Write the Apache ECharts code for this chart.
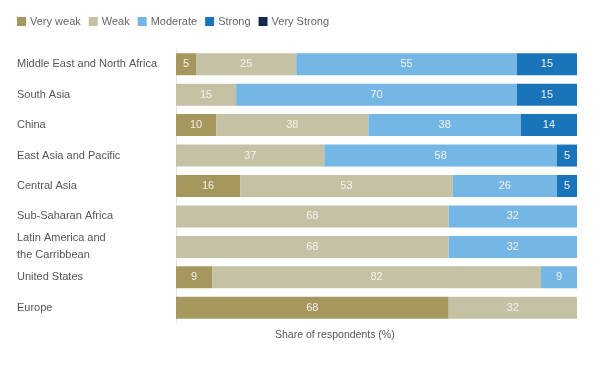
<!DOCTYPE html>
<html><head><meta charset="utf-8">
<script src="https://cdn.jsdelivr.net/npm/echarts@6/dist/echarts.min.js"></script>
<style>html,body{margin:0;padding:0;background:#fff}#c{width:600px;height:375px}</style>
</head><body><div id="c"></div>
<script>
const categories = ["Middle East and North Africa","South Asia","China","East Asia and Pacific","Central Asia","Sub-Saharan Africa","Latin America and\nthe Carribbean","United States","Europe"];
const veryWeak   = [5, 0, 10, 0, 16, 0, 0, 9, 68];
const weak       = [25, 15, 38, 37, 53, 68, 68, 82, 32];
const moderate   = [55, 70, 38, 58, 26, 32, 32, 9, 0];
const strong     = [15, 15, 14, 5, 5, 0, 0, 0, 0];
const veryStrong = [0, 0, 0, 0, 0, 0, 0, 0, 0];
const seriesNames = ["Very weak","Weak","Moderate","Strong","Very Strong"];
const colors = ["#a6975f","#c5c1a5","#74b6e5","#1a74ba","#14284e"];
const allData = [veryWeak, weak, moderate, strong, veryStrong];
const FF = 'Liberation Sans, Arial, sans-serif';

const chart = echarts.init(document.getElementById('c'));
chart.setOption({
  animation: false,
  textStyle: {fontFamily: FF},
  legend: {
    left: 12, top: 11, itemWidth: 9, itemHeight: 9, itemGap: 8,
    icon: 'rect',
    textStyle: {color: '#666', fontSize: 11, padding: [0,0,0,-1]},
    data: seriesNames
  },
  grid: {left: 176, right: 23, top: 49, height: 274},
  xAxis: {type: 'value', min: 0, max: 100, show: false},
  yAxis: {
    type: 'category', data: categories, inverse: true,
    axisLine: {show: true, lineStyle: {color: '#e4e4e4'}},
    axisTick: {show: false},
    axisLabel: {align: 'left', margin: 159, color: '#555', fontSize: 11, lineHeight: 17}
  },
  graphic: [{type: 'text', left: 275, top: 330, style: {text: 'Share of respondents (%)', fill: '#555', fontSize: 10.5, fontFamily: FF}}],
  series: seriesNames.map((n, i) => ({
    name: n, type: 'bar', stack: 'total', barWidth: 22,
    itemStyle: {color: colors[i]},
    label: {show: true, position: 'inside', color: '#f4f2e8', fontSize: 11,
      formatter: p => p.value ? String(p.value) : ''},
    data: allData[i]
  }))
});
</script></body></html>
